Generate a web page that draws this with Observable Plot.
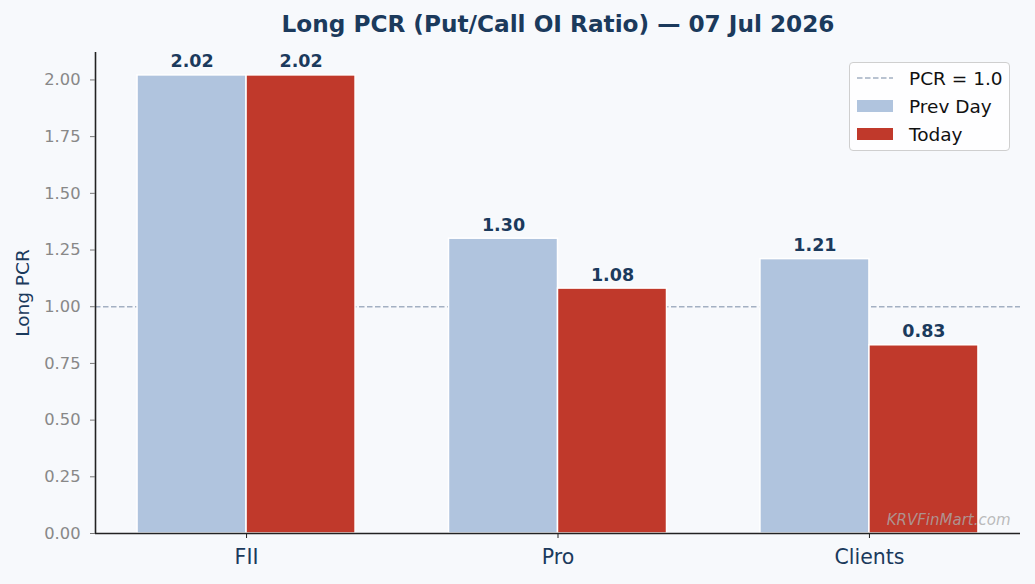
<!DOCTYPE html>
<html>
<head>
<meta charset="utf-8">
<script src="https://cdn.jsdelivr.net/npm/d3@7"></script>
<script src="https://cdn.jsdelivr.net/npm/@observablehq/plot@0.6"></script>
<style>
  html, body { margin: 0; padding: 0; background: #f7f9fc; }
  body { width: 1035px; height: 584px; position: relative; overflow: hidden; font-family: "DejaVu Sans", sans-serif; }
  #legend { position: absolute; left: 849px; top: 62px; width: 159px; height: 87px; border: 1px solid #cfcfcf; border-radius: 4px; background: rgba(255,255,255,0.8); }
  .row { position: absolute; left: 0; height: 28px; display: flex; align-items: center; font-size: 18.5px; color: #111; }
  .sw { width: 36px; margin-left: 7px; margin-right: 16px; }
</style>
</head>
<body>
<div id="chart"></div>
<div id="legend"></div>
<script>
const categories = ["FII", "Pro", "Clients"];
const seriesNames = ["Prev Day", "Today"];
const prevDay = [2.02, 1.30, 1.21];
const today = [2.02, 1.08, 0.83];
const yTicks = [0, 0.25, 0.5, 0.75, 1.0, 1.25, 1.5, 1.75, 2.0];
const refLine = 1.0;
const titleText = "Long PCR (Put/Call OI Ratio) — 07 Jul 2026";
const colors = ["#b0c4de", "#c0392b"];
const navy = "#1b3a5c";

const half = 0.35; // group half-width in category units
const rows = categories.flatMap((c, i) => [
  {cat: c, i, series: seriesNames[0], value: prevDay[i], x1: i - half, x2: i},
  {cat: c, i, series: seriesNames[1], value: today[i], x1: i, x2: i + half}
]);
const yMax = d3.max(rows, d => d.value) * 1.05;
const xDom = [-half - 0.05 * (2 + 2 * half) , 2 + half + 0.05 * (2 + 2 * half)];

const plot = Plot.plot({
  width: 1035,
  height: 584,
  marginLeft: 95,
  marginRight: 15,
  marginTop: 52,
  marginBottom: 51,
  style: {background: "transparent", fontFamily: "DejaVu Sans, sans-serif"},
  x: {type: "linear", domain: xDom, axis: null},
  y: {domain: [0, yMax], axis: null},
  color: {domain: seriesNames, range: colors},
  marks: [
    Plot.ruleY([refLine], {stroke: "#a3b0c2", strokeWidth: 1.5, strokeDasharray: "5.5,2.5"}),
    Plot.rectY(rows, {x1: "x1", x2: "x2", y1: 0, y2: "value", fill: "series", stroke: "white", strokeWidth: 1.5}),
    Plot.text(rows, {x: d => (d.x1 + d.x2) / 2, y: "value", text: d => d.value.toFixed(2), lineAnchor: "bottom", dy: -8, fontSize: 17.5, fontWeight: "bold", fill: navy}),
    Plot.ruleX([xDom[0]], {y1: 0, y2: yMax, stroke: "#222", strokeWidth: 1.6}),
    Plot.ruleY([0], {stroke: "#222", strokeWidth: 1.6}),
    Plot.axisY({ticks: yTicks, tickFormat: d3.format(".2f"), tickSize: 5, tickPadding: 10, stroke: "#777", fill: "#888", fontSize: 16.3, label: null}),
    Plot.axisX({ticks: [0, 1, 2], tickFormat: i => categories[i], tickSize: 5, tickPadding: 11, stroke: "#222", fill: navy, fontSize: 20.5, label: null}),
    Plot.text(["Long PCR"], {frameAnchor: "left", rotate: -90, textAnchor: "middle", lineAnchor: "middle", dx: -72, fontSize: 18.5, fill: navy}),
    Plot.text([titleText], {frameAnchor: "top", lineAnchor: "middle", dy: -28, fontSize: 23.2, fontWeight: "bold", fill: navy}),
    Plot.text(["KRVFinMart.com"], {frameAnchor: "bottom-right", dx: -10, dy: -9, fontSize: 15, fontStyle: "italic", fill: "#aaa", fillOpacity: 0.8})
  ]
});
document.getElementById("chart").appendChild(plot);

const legend = document.getElementById("legend");
const items = [
  {label: "PCR = 1.0", kind: "line", color: "#a3b0c2"},
  {label: seriesNames[0], kind: "patch", color: colors[0]},
  {label: seriesNames[1], kind: "patch", color: colors[1]}
];
items.forEach((it, k) => {
  const row = document.createElement("div");
  row.className = "row";
  row.style.top = (1 + k * 28) + "px";
  let sw;
  if (it.kind === "line") {
    sw = document.createElementNS("http://www.w3.org/2000/svg", "svg");
    sw.setAttribute("class", "sw");
    sw.setAttribute("width", "36");
    sw.setAttribute("height", "12");
    const ln = document.createElementNS("http://www.w3.org/2000/svg", "line");
    ln.setAttribute("x1", "0"); ln.setAttribute("x2", "36");
    ln.setAttribute("y1", "6"); ln.setAttribute("y2", "6");
    ln.setAttribute("stroke", it.color);
    ln.setAttribute("stroke-width", "1.5");
    ln.setAttribute("stroke-dasharray", "5.5,2.5");
    sw.appendChild(ln);
  } else {
    sw = document.createElement("div");
    sw.className = "sw";
    sw.style.height = "12px";
    sw.style.background = it.color;
  }
  row.appendChild(sw);
  const t = document.createElement("span");
  t.textContent = it.label;
  row.appendChild(t);
  legend.appendChild(row);
});
</script>
</body>
</html>
